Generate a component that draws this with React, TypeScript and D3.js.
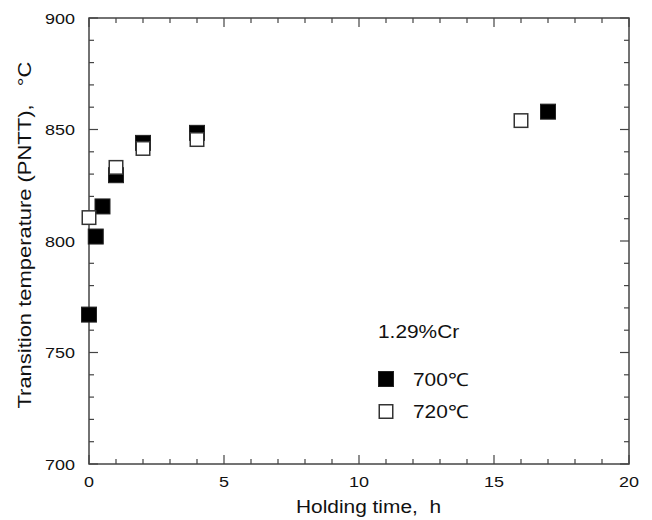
import React from "react";
import * as d3 from "d3";

// Holding time (h) and transition temperature (°C) for each holding temperature
const holdingTime700 = [0, 0.25, 0.5, 1, 2, 4, 17];
const temp700 = [767, 802, 815.5, 829.5, 844, 848.5, 858];
const holdingTime720 = [0, 1, 2, 4, 16];
const temp720 = [810.5, 833, 841.5, 845.5, 854];

const xMajorTicks = [0, 5, 10, 15, 20];
const yMajorTicks = [700, 750, 800, 850, 900];
const seriesLabels = ["700℃", "720℃"];
const compositionLabel = "1.29%Cr";
const xTitle = "Holding time,  h";
const yTitle = "Transition temperature (PNTT),   °C";

const W = 652;
const H = 520;
const M = { left: 89, right: 629, top: 18, bottom: 464 };
const FONT = "'Liberation Sans', Arial, sans-serif";
const AXIS = "#444";
const MS = 15; // marker side

function T({ x, y, children, size = 18, anchor = "start", rotate = 0, sx = 1.16 }: any) {
  return (
    <text
      transform={`translate(${x},${y}) rotate(${rotate}) scale(${sx},1)`}
      fontFamily={FONT}
      fontSize={size}
      textAnchor={anchor}
      fill="#111"
      style={{ whiteSpace: "pre" }}
      xmlSpace="preserve"
    >
      {children}
    </text>
  );
}

export default function App() {
  const x = d3.scaleLinear().domain([0, 20]).range([M.left, M.right]);
  const y = d3.scaleLinear().domain([700, 900]).range([M.bottom, M.top]);

  const xMinor = d3.range(0, 21, 1);
  const yMinor = d3.range(700, 901, 10);

  const pts700 = holdingTime700.map((t, i) => [t, temp700[i]]);
  const pts720 = holdingTime720.map((t, i) => [t, temp720[i]]);

  return (
    <svg width={W} height={H} style={{ position: "absolute", left: 0, top: 0, background: "#fff" }}>
      <rect x={0} y={0} width={W} height={H} fill="#fff" />
      {/* frame */}
      <rect
        x={M.left}
        y={M.top}
        width={M.right - M.left}
        height={M.bottom - M.top}
        fill="none"
        stroke={AXIS}
        strokeWidth={1.5}
      />
      {/* x ticks, bottom and top, pointing inward */}
      {xMinor.map((v) => {
        const len = v % 5 === 0 ? 9 : 5;
        return (
          <g key={"xt" + v} stroke={AXIS} strokeWidth={1.2}>
            <line x1={x(v)} x2={x(v)} y1={M.bottom} y2={M.bottom - len} />
            <line x1={x(v)} x2={x(v)} y1={M.top} y2={M.top + len} />
          </g>
        );
      })}
      {/* y ticks, left and right, pointing inward */}
      {yMinor.map((v) => {
        const len = v % 50 === 0 ? 9 : 5;
        return (
          <g key={"yt" + v} stroke={AXIS} strokeWidth={1.2}>
            <line x1={M.left} x2={M.left + len} y1={y(v)} y2={y(v)} />
            <line x1={M.right} x2={M.right - len} y1={y(v)} y2={y(v)} />
          </g>
        );
      })}
      {xMajorTicks.map((v) => (
        <T key={"xl" + v} x={x(v)} y={M.bottom + 23} size={15.5} anchor="middle">
          {v}
        </T>
      ))}
      {yMajorTicks.map((v) => (
        <T key={"yl" + v} x={M.left - 14} y={y(v) + 5.5} size={15.5} anchor="end">
          {v}
        </T>
      ))}
      <T x={296} y={513} size={18}>
        {xTitle}
      </T>
      <T x={31} y={235} size={18} anchor="middle" rotate={-90} sx={1.22}>
        {yTitle}
      </T>

      {/* 700 °C: filled squares */}
      {pts700.map(([t, v], i) => (
        <rect
          key={"a" + i}
          x={x(t) - MS / 2}
          y={y(v) - MS / 2}
          width={MS}
          height={MS}
          fill="#000"
          stroke="#222"
          strokeWidth={1}
        />
      ))}
      {/* 720 °C: open squares */}
      {pts720.map(([t, v], i) => (
        <rect
          key={"b" + i}
          x={x(t) - (MS - 1.5) / 2}
          y={y(v) - (MS - 1.5) / 2}
          width={MS - 1.5}
          height={MS - 1.5}
          fill="#fff"
          stroke="#333"
          strokeWidth={1.5}
        />
      ))}

      {/* legend */}
      <T x={378} y={338} size={18}>
        {compositionLabel}
      </T>
      <rect x={386 - MS / 2} y={379 - MS / 2} width={MS} height={MS} fill="#000" stroke="#222" strokeWidth={1} />
      <T x={413} y={386} size={18}>
        {seriesLabels[0]}
      </T>
      <rect
        x={386 - (MS - 1.5) / 2}
        y={411.5 - (MS - 1.5) / 2}
        width={MS - 1.5}
        height={MS - 1.5}
        fill="#fff"
        stroke="#333"
        strokeWidth={1.5}
      />
      <T x={413} y={418} size={18}>
        {seriesLabels[1]}
      </T>
    </svg>
  );
}
